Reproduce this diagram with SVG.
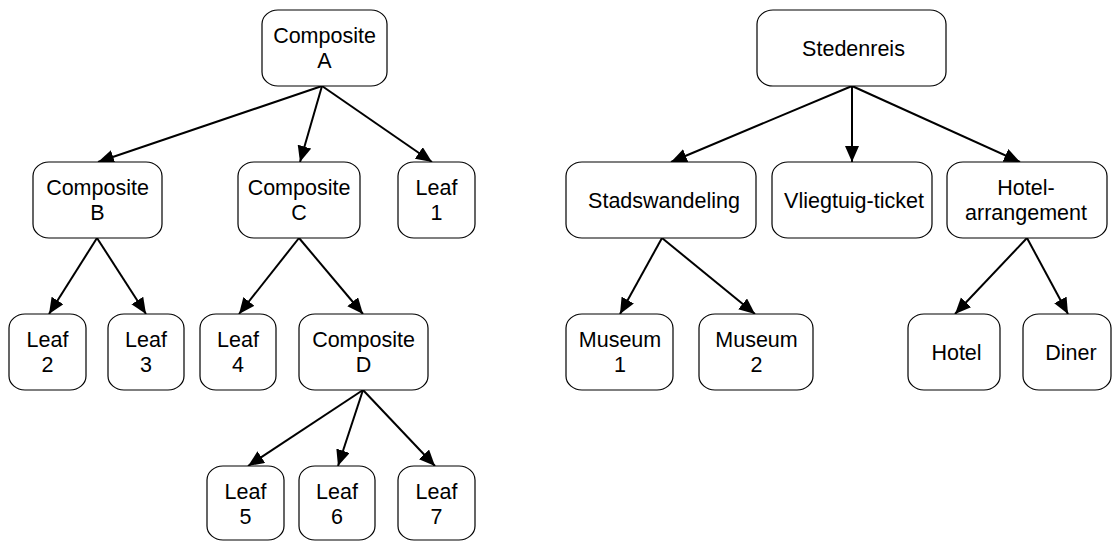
<svg xmlns="http://www.w3.org/2000/svg" width="1112" height="541" viewBox="0 0 1112 541">
  <style>
    .box { fill: #ffffff; stroke: #000000; stroke-width: 1.2; }
    .lbl { font-family: "Liberation Sans", Arial, sans-serif; font-size: 21.5px; fill: #000000; text-anchor: middle; }
    .edge { fill: none; stroke: #000000; stroke-width: 2; marker-end: url(#arrow); }
  </style>
  <defs>
    <marker id="arrow" markerUnits="userSpaceOnUse" markerWidth="17" markerHeight="15" refX="16" refY="7" orient="auto">
      <path d="M0,0 L16,7 L0,14 z" fill="#000000"/>
    </marker>
  </defs>
  <rect width="1112" height="541" fill="#ffffff"/>

  <!-- connectors -->
  <g id="connectors">
    <!-- composite tree -->
    <line class="edge" x1="322" y1="86" x2="98" y2="162"/>
    <line class="edge" x1="322" y1="86" x2="300" y2="162"/>
    <line class="edge" x1="322" y1="86" x2="432" y2="162"/>
    <line class="edge" x1="97" y1="238" x2="49" y2="314"/>
    <line class="edge" x1="97" y1="238" x2="146" y2="314"/>
    <line class="edge" x1="299" y1="238" x2="239" y2="314"/>
    <line class="edge" x1="299" y1="238" x2="363" y2="314"/>
    <line class="edge" x1="363" y1="390" x2="248" y2="466"/>
    <line class="edge" x1="363" y1="390" x2="338" y2="466"/>
    <line class="edge" x1="363" y1="390" x2="435" y2="466"/>
    <!-- city trip tree -->
    <line class="edge" x1="852" y1="86" x2="671" y2="162"/>
    <line class="edge" x1="852" y1="86" x2="852" y2="162"/>
    <line class="edge" x1="852" y1="86" x2="1020" y2="162"/>
    <line class="edge" x1="662" y1="238" x2="620" y2="314"/>
    <line class="edge" x1="662" y1="238" x2="755" y2="314"/>
    <line class="edge" x1="1027" y1="238" x2="955" y2="314"/>
    <line class="edge" x1="1027" y1="238" x2="1068" y2="314"/>
  </g>

  <!-- composite tree nodes -->
  <g id="compositeA">
    <rect class="box" x="262" y="10" width="125" height="76" rx="16" ry="14"/>
    <text class="lbl" transform="translate(324.5 48)"><tspan x="0" y="-5">Composite</tspan><tspan x="0" y="20">A</tspan></text>
  </g>
  <g id="compositeB">
    <rect class="box" x="33" y="162" width="129" height="76" rx="16" ry="14"/>
    <text class="lbl" transform="translate(97.5 200)"><tspan x="0" y="-5">Composite</tspan><tspan x="0" y="20">B</tspan></text>
  </g>
  <g id="compositeC">
    <rect class="box" x="238" y="162" width="122" height="76" rx="16" ry="14"/>
    <text class="lbl" transform="translate(299 200)"><tspan x="0" y="-5">Composite</tspan><tspan x="0" y="20">C</tspan></text>
  </g>
  <g id="leaf1">
    <rect class="box" x="398" y="162" width="77" height="76" rx="16" ry="14"/>
    <text class="lbl" transform="translate(436.5 200)"><tspan x="0" y="-5">Leaf</tspan><tspan x="0" y="20">1</tspan></text>
  </g>
  <g id="leaf2">
    <rect class="box" x="9" y="314" width="77" height="76" rx="16" ry="14"/>
    <text class="lbl" transform="translate(47.5 352)"><tspan x="0" y="-5">Leaf</tspan><tspan x="0" y="20">2</tspan></text>
  </g>
  <g id="leaf3">
    <rect class="box" x="108" y="314" width="76" height="76" rx="16" ry="14"/>
    <text class="lbl" transform="translate(146 352)"><tspan x="0" y="-5">Leaf</tspan><tspan x="0" y="20">3</tspan></text>
  </g>
  <g id="leaf4">
    <rect class="box" x="200" y="314" width="76" height="76" rx="16" ry="14"/>
    <text class="lbl" transform="translate(238 352)"><tspan x="0" y="-5">Leaf</tspan><tspan x="0" y="20">4</tspan></text>
  </g>
  <g id="compositeD">
    <rect class="box" x="299" y="314" width="129" height="76" rx="16" ry="14"/>
    <text class="lbl" transform="translate(363.5 352)"><tspan x="0" y="-5">Composite</tspan><tspan x="0" y="20">D</tspan></text>
  </g>
  <g id="leaf5">
    <rect class="box" x="207" y="466" width="77" height="74" rx="16" ry="14"/>
    <text class="lbl" transform="translate(245.5 504)"><tspan x="0" y="-5">Leaf</tspan><tspan x="0" y="20">5</tspan></text>
  </g>
  <g id="leaf6">
    <rect class="box" x="299" y="466" width="76" height="74" rx="16" ry="14"/>
    <text class="lbl" transform="translate(337 504)"><tspan x="0" y="-5">Leaf</tspan><tspan x="0" y="20">6</tspan></text>
  </g>
  <g id="leaf7">
    <rect class="box" x="398" y="466" width="77" height="74" rx="16" ry="14"/>
    <text class="lbl" transform="translate(436.5 504)"><tspan x="0" y="-5">Leaf</tspan><tspan x="0" y="20">7</tspan></text>
  </g>

  <!-- city trip tree nodes -->
  <g id="stedenreis">
    <rect class="box" x="757" y="10" width="189" height="76" rx="16" ry="14"/>
    <text class="lbl" transform="translate(853.5 55.5)">Stedenreis</text>
  </g>
  <g id="stadswandeling">
    <rect class="box" x="566" y="162" width="190" height="76" rx="16" ry="14"/>
    <text class="lbl" transform="translate(664 207.5)">Stadswandeling</text>
  </g>
  <g id="vliegtuigticket">
    <rect class="box" x="772" y="162" width="160" height="76" rx="16" ry="14"/>
    <text class="lbl" transform="translate(854 207.5)">Vliegtuig-ticket</text>
  </g>
  <g id="hotelarrangement">
    <rect class="box" x="947" y="162" width="160" height="76" rx="16" ry="14"/>
    <text class="lbl" transform="translate(1026 200)"><tspan x="0" y="-5">Hotel-</tspan><tspan x="0" y="20">arrangement</tspan></text>
  </g>
  <g id="museum1">
    <rect class="box" x="566" y="314" width="107" height="76" rx="16" ry="14"/>
    <text class="lbl" transform="translate(620 352)"><tspan x="0" y="-5">Museum</tspan><tspan x="0" y="20">1</tspan></text>
  </g>
  <g id="museum2">
    <rect class="box" x="699" y="314" width="114" height="76" rx="16" ry="14"/>
    <text class="lbl" transform="translate(756.5 352)"><tspan x="0" y="-5">Museum</tspan><tspan x="0" y="20">2</tspan></text>
  </g>
  <g id="hotel">
    <rect class="box" x="908" y="314" width="92" height="76" rx="16" ry="14"/>
    <text class="lbl" transform="translate(956.5 359.5)">Hotel</text>
  </g>
  <g id="diner">
    <rect class="box" x="1023" y="314" width="88" height="76" rx="16" ry="14"/>
    <text class="lbl" transform="translate(1071 359.5)">Diner</text>
  </g>
</svg>
